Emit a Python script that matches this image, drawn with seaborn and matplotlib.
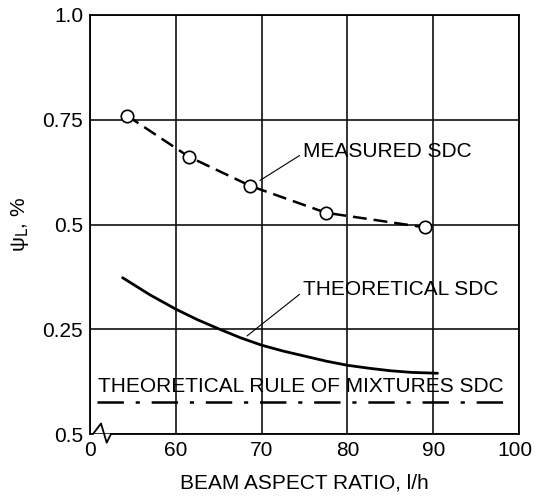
import matplotlib
matplotlib.use("Agg")
import matplotlib.pyplot as plt
import matplotlib.transforms as mtransforms
import seaborn as sns
import pandas as pd

# Data
measured_x = [54.3, 61.5, 68.7, 77.5, 89.1]
measured_y = [0.760, 0.662, 0.592, 0.528, 0.493]

theory_x = [53.8, 57.0, 60.0, 62.5, 65.0, 67.5, 70.0, 72.5, 75.0, 77.5, 80.0, 82.5, 85.0, 87.5, 90.5]
theory_y = [0.373, 0.332, 0.298, 0.273, 0.251, 0.230, 0.212, 0.198, 0.186, 0.174, 0.164, 0.157, 0.151, 0.147, 0.145]

rom_x = [50.8, 98.4]
rom_y = [0.077, 0.077]

x_ticks = [50, 60, 70, 80, 90, 100]
x_tick_labels = ["0", "60", "70", "80", "90", "100"]
y_ticks = [0.0, 0.25, 0.5, 0.75, 1.0]
y_tick_labels = ["0.5", "0.25", "0.5", "0.75", "1.0"]

sns.set_style("white")
plt.rcParams["font.family"] = ["Liberation Sans", "DejaVu Sans"]
plt.rcParams["lines.scale_dashes"] = False
for k in ["text.color", "axes.labelcolor", "xtick.color", "ytick.color"]:
    plt.rcParams[k] = "black"

FS = 15

fig = plt.figure(figsize=(5.35, 4.96), dpi=100)
ax = fig.add_axes([90 / 535, 1 - 434 / 496, (519 - 90) / 535, (434 - 15) / 496])

measured = pd.DataFrame({"x": measured_x, "y": measured_y})
theory = pd.DataFrame({"x": theory_x, "y": theory_y})
rom = pd.DataFrame({"x": rom_x, "y": rom_y})

sns.lineplot(data=measured, x="x", y="y", ax=ax, color="black", lw=1.8, zorder=3)
ax.lines[-1].set_dashes((10, 5))
sns.scatterplot(data=measured, x="x", y="y", ax=ax, marker="o", s=80,
                facecolor="white", edgecolor="black", linewidth=1.2, zorder=4)
sns.lineplot(data=theory, x="x", y="y", ax=ax, color="black", lw=2.0, zorder=3)
sns.lineplot(data=rom, x="x", y="y", ax=ax, color="black", lw=1.8, zorder=3)
ax.lines[-1].set_dashes((19, 8.5, 3, 8.5))

ax.set_xlim(50, 100)
ax.set_ylim(0, 1)
ax.set_xticks(x_ticks)
ax.set_xticklabels(x_tick_labels)
ax.set_yticks(y_ticks)
ax.set_yticklabels(y_tick_labels)
ax.tick_params(length=0, labelsize=FS, pad=5)
ax.grid(True, color="#111111", lw=1.2)
for s in ["top", "right", "left"]:
    ax.spines[s].set_color("black")
    ax.spines[s].set_linewidth(1.3)
ax.spines["bottom"].set_visible(False)

# shift last x tick label slightly left so it fits
lab = ax.get_xticklabels()[-1]
lab.set_transform(lab.get_transform() + mtransforms.ScaledTranslation(-3 / 72, 0, fig.dpi_scale_trans))

# bottom axis with break symbol (axes coordinates)
w = 429.0
h = 419.0
bx = [0, 3 / w, 11 / w, 16.7 / w, 21 / w, 1]
by = [0, 0, 10.5 / h, -8.7 / h, 0, 0]
ax.plot(bx, by, transform=ax.transAxes, color="black", lw=1.3, clip_on=False, zorder=5)

ax.set_xlabel("BEAM ASPECT RATIO, l/h", fontsize=FS, labelpad=10)
ax.set_ylabel(r"ψ$_{\rm L}$, %", fontsize=FS, labelpad=8)

ax.annotate("MEASURED SDC", xy=(69.8, 0.605), xytext=(74.8, 0.674),
            fontsize=FS, va="center", ha="left",
            arrowprops=dict(arrowstyle="-", color="black", lw=0.8,
                            shrinkA=0, shrinkB=0, relpos=(0, 0.4)))
ax.annotate("THEORETICAL SDC", xy=(68.3, 0.234), xytext=(74.8, 0.344),
            fontsize=FS, va="center", ha="left",
            arrowprops=dict(arrowstyle="-", color="black", lw=0.8,
                            shrinkA=0, shrinkB=0, relpos=(0, 0.4)))
ax.text(50.9, 0.113, "THEORETICAL RULE OF MIXTURES SDC", fontsize=FS,
        va="center", ha="left")

fig.savefig("out.png", dpi=100)
